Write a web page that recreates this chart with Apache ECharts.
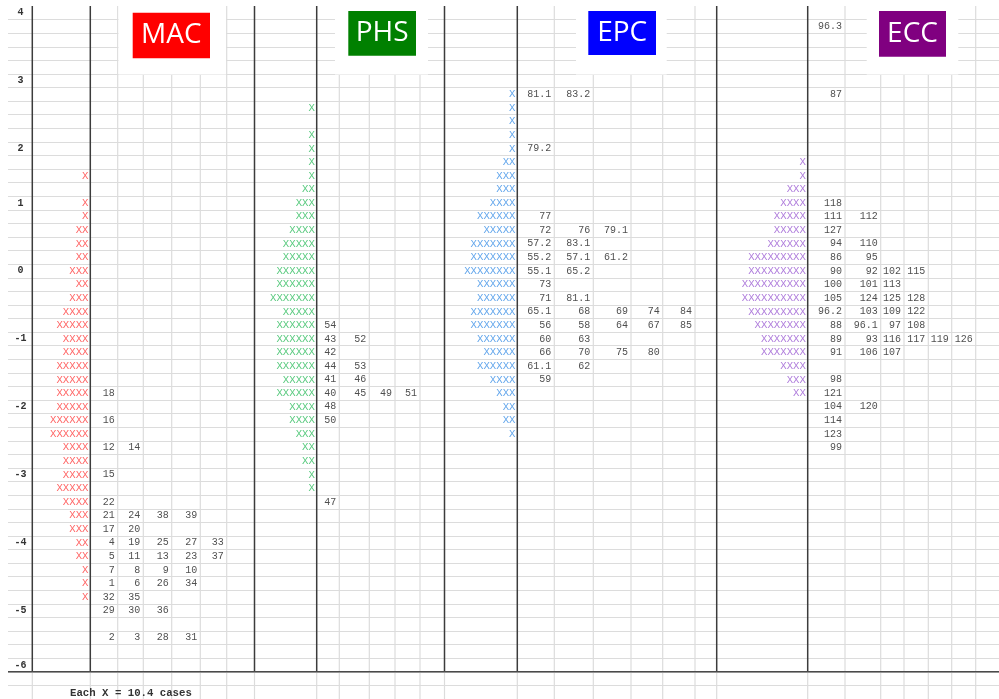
<!DOCTYPE html>
<html><head><meta charset="utf-8">
<script src="https://cdn.jsdelivr.net/npm/echarts@6/dist/echarts.min.js"></script>
<style>html,body{margin:0;padding:0;background:#fff}#c{width:999px;height:699px}</style>
</head><body><div id="c"></div>
<script>
// ---------- DATA ----------
// Map rows: row 0 = top (measure 4) ... row 48 = bottom (measure -6); rows 49-50 are footer rows
const ROW_COUNT = 51;
const tickRows   = [0, 5, 10, 14, 19, 24, 29, 34, 39, 44, 48];
const tickLabels = ['4', '3', '2', '1', '0', '-1', '-2', '-3', '-4', '-5', '-6'];

const groups = ['MAC', 'PHS', 'EPC', 'ECC'];

// Person distributions: number of X per row, starting at the given row
const macXStart = 12;
const macXCounts = [1,0,1,1,2,2,2,3,2,3,4,5,4,4,5,5,5,5,6,6,4,4,4,5,4,3,3,2,2,1,1,1];
const phsXStart = 7;
const phsXCounts = [1,0,1,1,1,1,2,3,3,4,5,5,6,6,7,5,6,6,6,6,5,6,4,4,3,2,2,1,1];
const epcXStart = 6;
const epcXCounts = [1,1,1,1,1,2,3,3,4,6,5,7,7,8,6,6,7,7,6,5,6,4,3,2,2,1];
const eccXStart = 11;
const eccXCounts = [1,1,3,4,5,5,6,9,9,10,10,9,8,7,7,4,3,2];

// Item locations: row of each line and the item labels on it
const macItemRows = [28,30,32,34,36,37,38,39,40,41,42,43,44,46];
const macItems = [['18'],['16'],['12','14'],['15'],['22'],['21','24','38','39'],['17','20'],
  ['4','19','25','27','33'],['5','11','13','23','37'],['7','8','9','10'],['1','6','26','34'],
  ['32','35'],['29','30','36'],['2','3','28','31']];
const phsItemRows = [23,24,25,26,27,28,29,30,36];
const phsItems = [['54'],['43','52'],['42'],['44','53'],['41','46'],['40','45','49','51'],['48'],['50'],['47']];
const epcItemRows = [6,10,15,16,17,18,19,20,21,22,23,24,25,26,27];
const epcItems = [['81.1','83.2'],['79.2'],['77'],['72','76','79.1'],['57.2','83.1'],
  ['55.2','57.1','61.2'],['55.1','65.2'],['73'],['71','81.1'],['65.1','68','69','74','84'],
  ['56','58','64','67','85'],['60','63'],['66','70','75','80'],['61.1','62'],['59']];
const eccItemRows = [1,6,14,15,16,17,18,19,20,21,22,23,24,25,27,28,29,30,31,32];
const eccItems = [['96.3'],['87'],['118'],['111','112'],['127'],['94','110'],['86','95'],
  ['90','92','102','115'],['100','101','113'],['105','124','125','128'],['96.2','103','109','122'],
  ['88','96.1','97','108'],['89','93','116','117','119','126'],['91','106','107'],['98'],['121'],
  ['104','120'],['114'],['123'],['99']];

const footnote = 'Each X = 10.4 cases';

// ---------- LAYOUT (sheet columns, in horizontal axis units) ----------
const darkCols  = [32.3, 90.3, 254.5, 316.7, 444.5, 517.3, 716.7, 807.7];
const lightCols = [117.7,143.3,171.7,200.3,226.7,339.3,369.3,395,420,554.3,593.3,631,662.7,695,845,880.7,904,928.3,951.7,975.7];
const sectionLayout = {
  MAC: {xEdge: 90.3,  itemEdges: [117.7,143.3,171.7,200.3,226.7,254.5], xColor: '#ff3b3b', box: '#ff0000', white: [118.5,226], boxRect: [132.7,12.7,77.3,45.6]},
  PHS: {xEdge: 316.7, itemEdges: [339.3,369.3,395,420,444.5],           xColor: '#2dbb5c', box: '#008000', white: [335,428],   boxRect: [348.3,11,67.7,44.7]},
  EPC: {xEdge: 517.3, itemEdges: [554.3,593.3,631,662.7,695,716.7],     xColor: '#3a8ee6', box: '#0000ff', white: [576,666.7], boxRect: [588.3,11,67.7,44]},
  ECC: {xEdge: 807.7, itemEdges: [845,880.7,904,928.3,951.7,975.7,999], xColor: '#9a5ad2', box: '#800080', white: [866.7,958.3], boxRect: [879,11,67,45.7]}
};
const groupData = {
  MAC: {xStart: macXStart, xCounts: macXCounts, itemRows: macItemRows, items: macItems},
  PHS: {xStart: phsXStart, xCounts: phsXCounts, itemRows: phsItemRows, items: phsItems},
  EPC: {xStart: epcXStart, xCounts: epcXCounts, itemRows: epcItemRows, items: epcItems},
  ECC: {xStart: eccXStart, xCounts: eccXCounts, itemRows: eccItemRows, items: eccItems}
};

const MONO = '"Liberation Mono","DejaVu Sans Mono",monospace';
const rowCategories = [];
for (let r = 0; r < ROW_COUNT; r++) {
  const k = tickRows.indexOf(r);
  rowCategories.push(k >= 0 ? tickLabels[k] : '');
}

const series = [];
// sheet lines
const lineData = darkCols.map(x => [x, 1]).concat(lightCols.map(x => [x, 0])).concat([[8, 2]]);
series.push({
  type: 'custom', xAxisIndex: 0, yAxisIndex: 0, silent: true, z: 1,
  data: lineData,
  renderItem: function (params, api) {
    const x = api.value(0), kind = api.value(1);
    if (kind === 2) {
      const a = api.coord([8, 49]), b = api.coord([999, 49]);
      return {type: 'line', shape: {x1: a[0], y1: a[1], x2: b[0], y2: b[1]}, style: {stroke: '#4a4a4a', lineWidth: 1.6}};
    }
    const top = api.coord([x, 0]), mid = api.coord([x, 49]), bot = api.coord([x, ROW_COUNT]);
    if (kind === 1) {
      return {type: 'group', children: [
        {type: 'line', shape: {x1: top[0], y1: top[1], x2: mid[0], y2: mid[1]}, style: {stroke: '#3c3c3c', lineWidth: 1.5}},
        {type: 'line', shape: {x1: mid[0], y1: mid[1], x2: bot[0], y2: bot[1]}, style: {stroke: '#dcdcdc', lineWidth: 1.2}}
      ]};
    }
    return {type: 'line', shape: {x1: top[0], y1: top[1], x2: bot[0], y2: bot[1]}, style: {stroke: '#dcdcdc', lineWidth: 1.2}};
  }
});

groups.forEach(g => {
  const L = sectionLayout[g], D = groupData[g];
  const xs = [];
  D.xCounts.forEach((c, i) => {
    if (c > 0) xs.push({value: [L.xEdge, D.xStart + i + 0.5], name: 'X'.repeat(c)});
  });
  series.push({
    name: g + ' persons', type: 'scatter', symbolSize: 0, silent: true, z: 5,
    data: xs,
    label: {show: true, position: 'left', distance: 1.8, formatter: '{b}',
      fontFamily: MONO, fontSize: 10.7, color: L.xColor}
  });
  const its = [];
  D.itemRows.forEach((r, i) => {
    D.items[i].forEach((lab, j) => {
      its.push({value: [L.itemEdges[j], r + 0.5], name: lab});
    });
  });
  series.push({
    name: g + ' items', type: 'scatter', symbolSize: 0, silent: true, z: 5,
    data: its,
    label: {show: true, position: 'left', distance: 3, formatter: '{b}',
      fontFamily: MONO, fontSize: 10, color: '#222222'}
  });
});

// title boxes
const graphics = [];
groups.forEach(g => {
  const L = sectionLayout[g];
  graphics.push({type: 'rect', z: 100, silent: true,
    shape: {x: L.white[0], y: 0, width: L.white[1] - L.white[0], height: 74.6},
    style: {fill: '#ffffff'}});
  graphics.push({type: 'rect', z: 101, silent: true,
    shape: {x: L.boxRect[0], y: L.boxRect[1], width: L.boxRect[2], height: L.boxRect[3]},
    style: {fill: L.box}});
  graphics.push({type: 'text', z: 102, silent: true,
    x: L.boxRect[0] + L.boxRect[2] / 2, y: L.boxRect[1] + L.boxRect[3] / 2,
    style: {text: g, fill: '#ffffff', font: '28px "Open Sans", "Noto Sans", sans-serif',
      textAlign: 'center', textVerticalAlign: 'middle'}});
});

const chart = echarts.init(document.getElementById('c'), null, {renderer: 'canvas'});
chart.setOption({
  animation: false,
  backgroundColor: '#ffffff',
  title: {text: footnote, left: 70, top: 687.5, padding: 0,
    textStyle: {fontFamily: MONO, fontSize: 10.7, fontWeight: 'bold', color: '#333333'}},
  grid: {left: 8, right: 0, top: 6, height: 693.9, containLabel: false},
  xAxis: {type: 'value', min: 8, max: 999, show: false},
  yAxis: [
    {type: 'value', min: 0, max: ROW_COUNT, interval: 1, inverse: true, position: 'left',
      axisLine: {show: false}, axisTick: {show: false}, axisLabel: {show: false},
      splitLine: {show: true, showMinLine: false, showMaxLine: false, lineStyle: {color: '#dcdcdc', width: 1.2}}},
    {type: 'category', data: rowCategories, inverse: true, position: 'left',
      axisLine: {show: false}, axisTick: {show: false}, splitLine: {show: false},
      axisLabel: {show: true, inside: true, interval: 0, align: 'center', margin: 12.5,
        fontFamily: MONO, fontSize: 10, fontWeight: 'bold', color: '#333333'}}
  ],
  series: series,
  graphic: graphics
});
</script>
</body></html>
